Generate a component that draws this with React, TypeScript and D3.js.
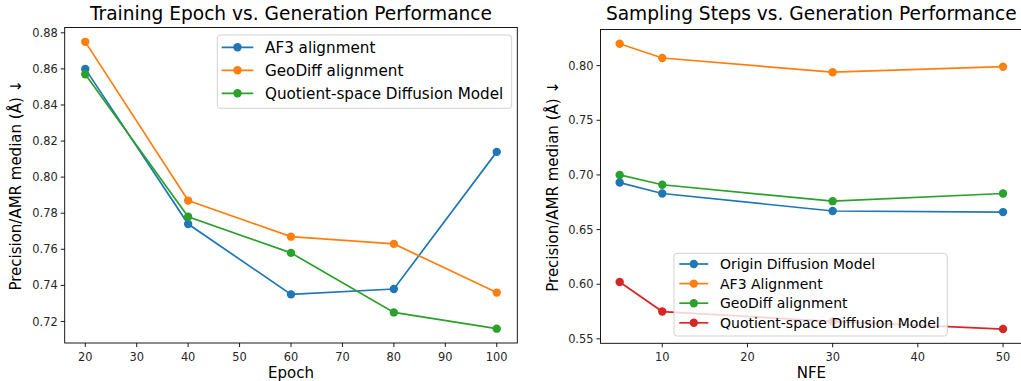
import * as d3 from "d3"

const epochs = [20, 40, 60, 80, 100]
const epochSeries = ["AF3 alignment", "GeoDiff alignment", "Quotient-space Diffusion Model"]
const epochAF3 = [0.86, 0.774, 0.735, 0.738, 0.814]
const epochGeoDiff = [0.875, 0.787, 0.767, 0.763, 0.736]
const epochQuotient = [0.857, 0.778, 0.758, 0.725, 0.716]
const epochXTicks = [20, 30, 40, 50, 60, 70, 80, 90, 100]
const epochYTicks = [0.72, 0.74, 0.76, 0.78, 0.8, 0.82, 0.84, 0.86, 0.88]

const nfe = [5, 10, 30, 50]
const nfeSeries = ["Origin Diffusion Model", "AF3 Alignment", "GeoDiff alignment", "Quotient-space Diffusion Model"]
const nfeOrigin = [0.693, 0.683, 0.667, 0.666]
const nfeAF3 = [0.82, 0.807, 0.794, 0.799]
const nfeGeoDiff = [0.7, 0.691, 0.676, 0.683]
const nfeQuotient = [0.602, 0.575, 0.566, 0.559]
const nfeXTicks = [10, 20, 30, 40, 50]
const nfeYTicks = [0.55, 0.6, 0.65, 0.7, 0.75, 0.8]

const colors = ["#1f77b4", "#ff7f0e", "#2ca02c", "#d62728"]
const font = "DejaVu Sans, sans-serif"

interface PanelProps {
  title: string
  xLabel: string
  xs: number[]
  series: number[][]
  names: string[]
  colorIdx: number[]
  xTicks: number[]
  yTicks: number[]
  yFmt: (v: number) => string
  box: { left: number; right: number; top: number; bottom: number }
  yLabelX: number
  legend: {
    x: number
    y: number
    w: number
    h: number
    row: number
    fontSize: number
    first: number
    handle: [number, number]
    textX: number
  }
}

function Panel({ title, xLabel, xs, series, names, colorIdx, xTicks, yTicks, yFmt, box, yLabelX, legend }: PanelProps) {
  const all = series.flat()
  const xMin = d3.min(xs)!, xMax = d3.max(xs)!
  const yMin = d3.min(all)!, yMax = d3.max(all)!
  const xPad = (xMax - xMin) * 0.05
  const yPad = (yMax - yMin) * 0.05
  const x = d3.scaleLinear().domain([xMin - xPad, xMax + xPad]).range([box.left, box.right])
  const y = d3.scaleLinear().domain([yMin - yPad, yMax + yPad]).range([box.bottom, box.top])
  const line = d3
    .line<number>()
    .x((_, i) => x(xs[i]))
    .y((d) => y(d))

  const cx = (box.left + box.right) / 2
  const cy = (box.top + box.bottom) / 2
  const [h0, h1] = legend.handle

  return (
    <g fontFamily={font} fill="#262626">
      <text x={cx} y={20} textAnchor="middle" fontSize={18.6} fill="#000">
        {title}
      </text>
      {series.map((s, k) => (
        <g key={k}>
          <path d={line(s) || ""} fill="none" stroke={colors[colorIdx[k]]} strokeWidth={1.7} />
          {s.map((v, i) => (
            <circle key={i} cx={x(xs[i])} cy={y(v)} r={4.2} fill={colors[colorIdx[k]]} />
          ))}
        </g>
      ))}
      <rect
        x={box.left}
        y={box.top}
        width={box.right - box.left}
        height={box.bottom - box.top}
        fill="none"
        stroke="#000"
        strokeWidth={0.9}
      />
      {xTicks.map((t) => (
        <g key={t}>
          <line x1={x(t)} x2={x(t)} y1={box.bottom} y2={box.bottom + 4} stroke="#000" strokeWidth={0.9} />
          <text x={x(t)} y={box.bottom + 18} textAnchor="middle" fontSize={11.4}>
            {t}
          </text>
        </g>
      ))}
      {yTicks.map((t) => (
        <g key={t}>
          <line x1={box.left - 4} x2={box.left} y1={y(t)} y2={y(t)} stroke="#000" strokeWidth={0.9} />
          <text x={box.left - 7} y={y(t) + 4.1} textAnchor="end" fontSize={11.4}>
            {yFmt(t)}
          </text>
        </g>
      ))}
      <text x={cx} y={box.bottom + 34.5} textAnchor="middle" fontSize={15} fill="#000">
        {xLabel}
      </text>
      <text
        transform={`translate(${yLabelX},${cy}) rotate(-90)`}
        textAnchor="middle"
        fontSize={15}
        fill="#000"
      >
        Precision/AMR median (Å) ↓
      </text>
      <g>
        <rect
          x={legend.x}
          y={legend.y}
          width={legend.w}
          height={legend.h}
          rx={3}
          fill="#fff"
          fillOpacity={0.8}
          stroke="#ccc"
          strokeWidth={0.9}
        />
        {names.map((n, k) => {
          const ly = legend.first + k * legend.row
          return (
            <g key={n}>
              <line x1={h0} x2={h1} y1={ly} y2={ly} stroke={colors[colorIdx[k]]} strokeWidth={1.7} />
              <circle cx={(h0 + h1) / 2} cy={ly} r={4.2} fill={colors[colorIdx[k]]} />
              <text x={legend.textX} y={ly + legend.fontSize * 0.36} fontSize={legend.fontSize} fill="#000">
                {n}
              </text>
            </g>
          )
        })}
      </g>
    </g>
  )
}

export default function App() {
  return (
    <svg width={1021} height={381} style={{ position: "absolute", left: 0, top: 0, background: "#fff" }}>
      <rect width={1021} height={381} fill="#fff" />
      <Panel
        title="Training Epoch vs. Generation Performance"
        xLabel="Epoch"
        xs={epochs}
        series={[epochAF3, epochGeoDiff, epochQuotient]}
        names={epochSeries}
        colorIdx={[0, 1, 2]}
        xTicks={epochXTicks}
        yTicks={epochYTicks}
        yFmt={d3.format(".2f")}
        box={{ left: 64.7, right: 517.3, top: 27.5, bottom: 343 }}
        yLabelX={21}
        legend={{
          x: 217.3,
          y: 35,
          w: 294.4,
          h: 73.3,
          row: 23,
          fontSize: 15.2,
          first: 47.3,
          handle: [221.7, 253.3],
          textX: 265,
        }}
      />
      <Panel
        title="Sampling Steps vs. Generation Performance"
        xLabel="NFE"
        xs={nfe}
        series={[nfeOrigin, nfeAF3, nfeGeoDiff, nfeQuotient]}
        names={nfeSeries}
        colorIdx={[0, 1, 2, 3]}
        xTicks={nfeXTicks}
        yTicks={nfeYTicks}
        yFmt={d3.format(".2f")}
        box={{ left: 600.5, right: 1022.2, top: 29.5, bottom: 343.3 }}
        yLabelX={558}
        legend={{
          x: 674,
          y: 253.3,
          w: 273.3,
          h: 82.7,
          row: 19.6,
          fontSize: 14,
          first: 264,
          handle: [679.3, 708.3],
          textX: 720,
        }}
      />
    </svg>
  )
}
